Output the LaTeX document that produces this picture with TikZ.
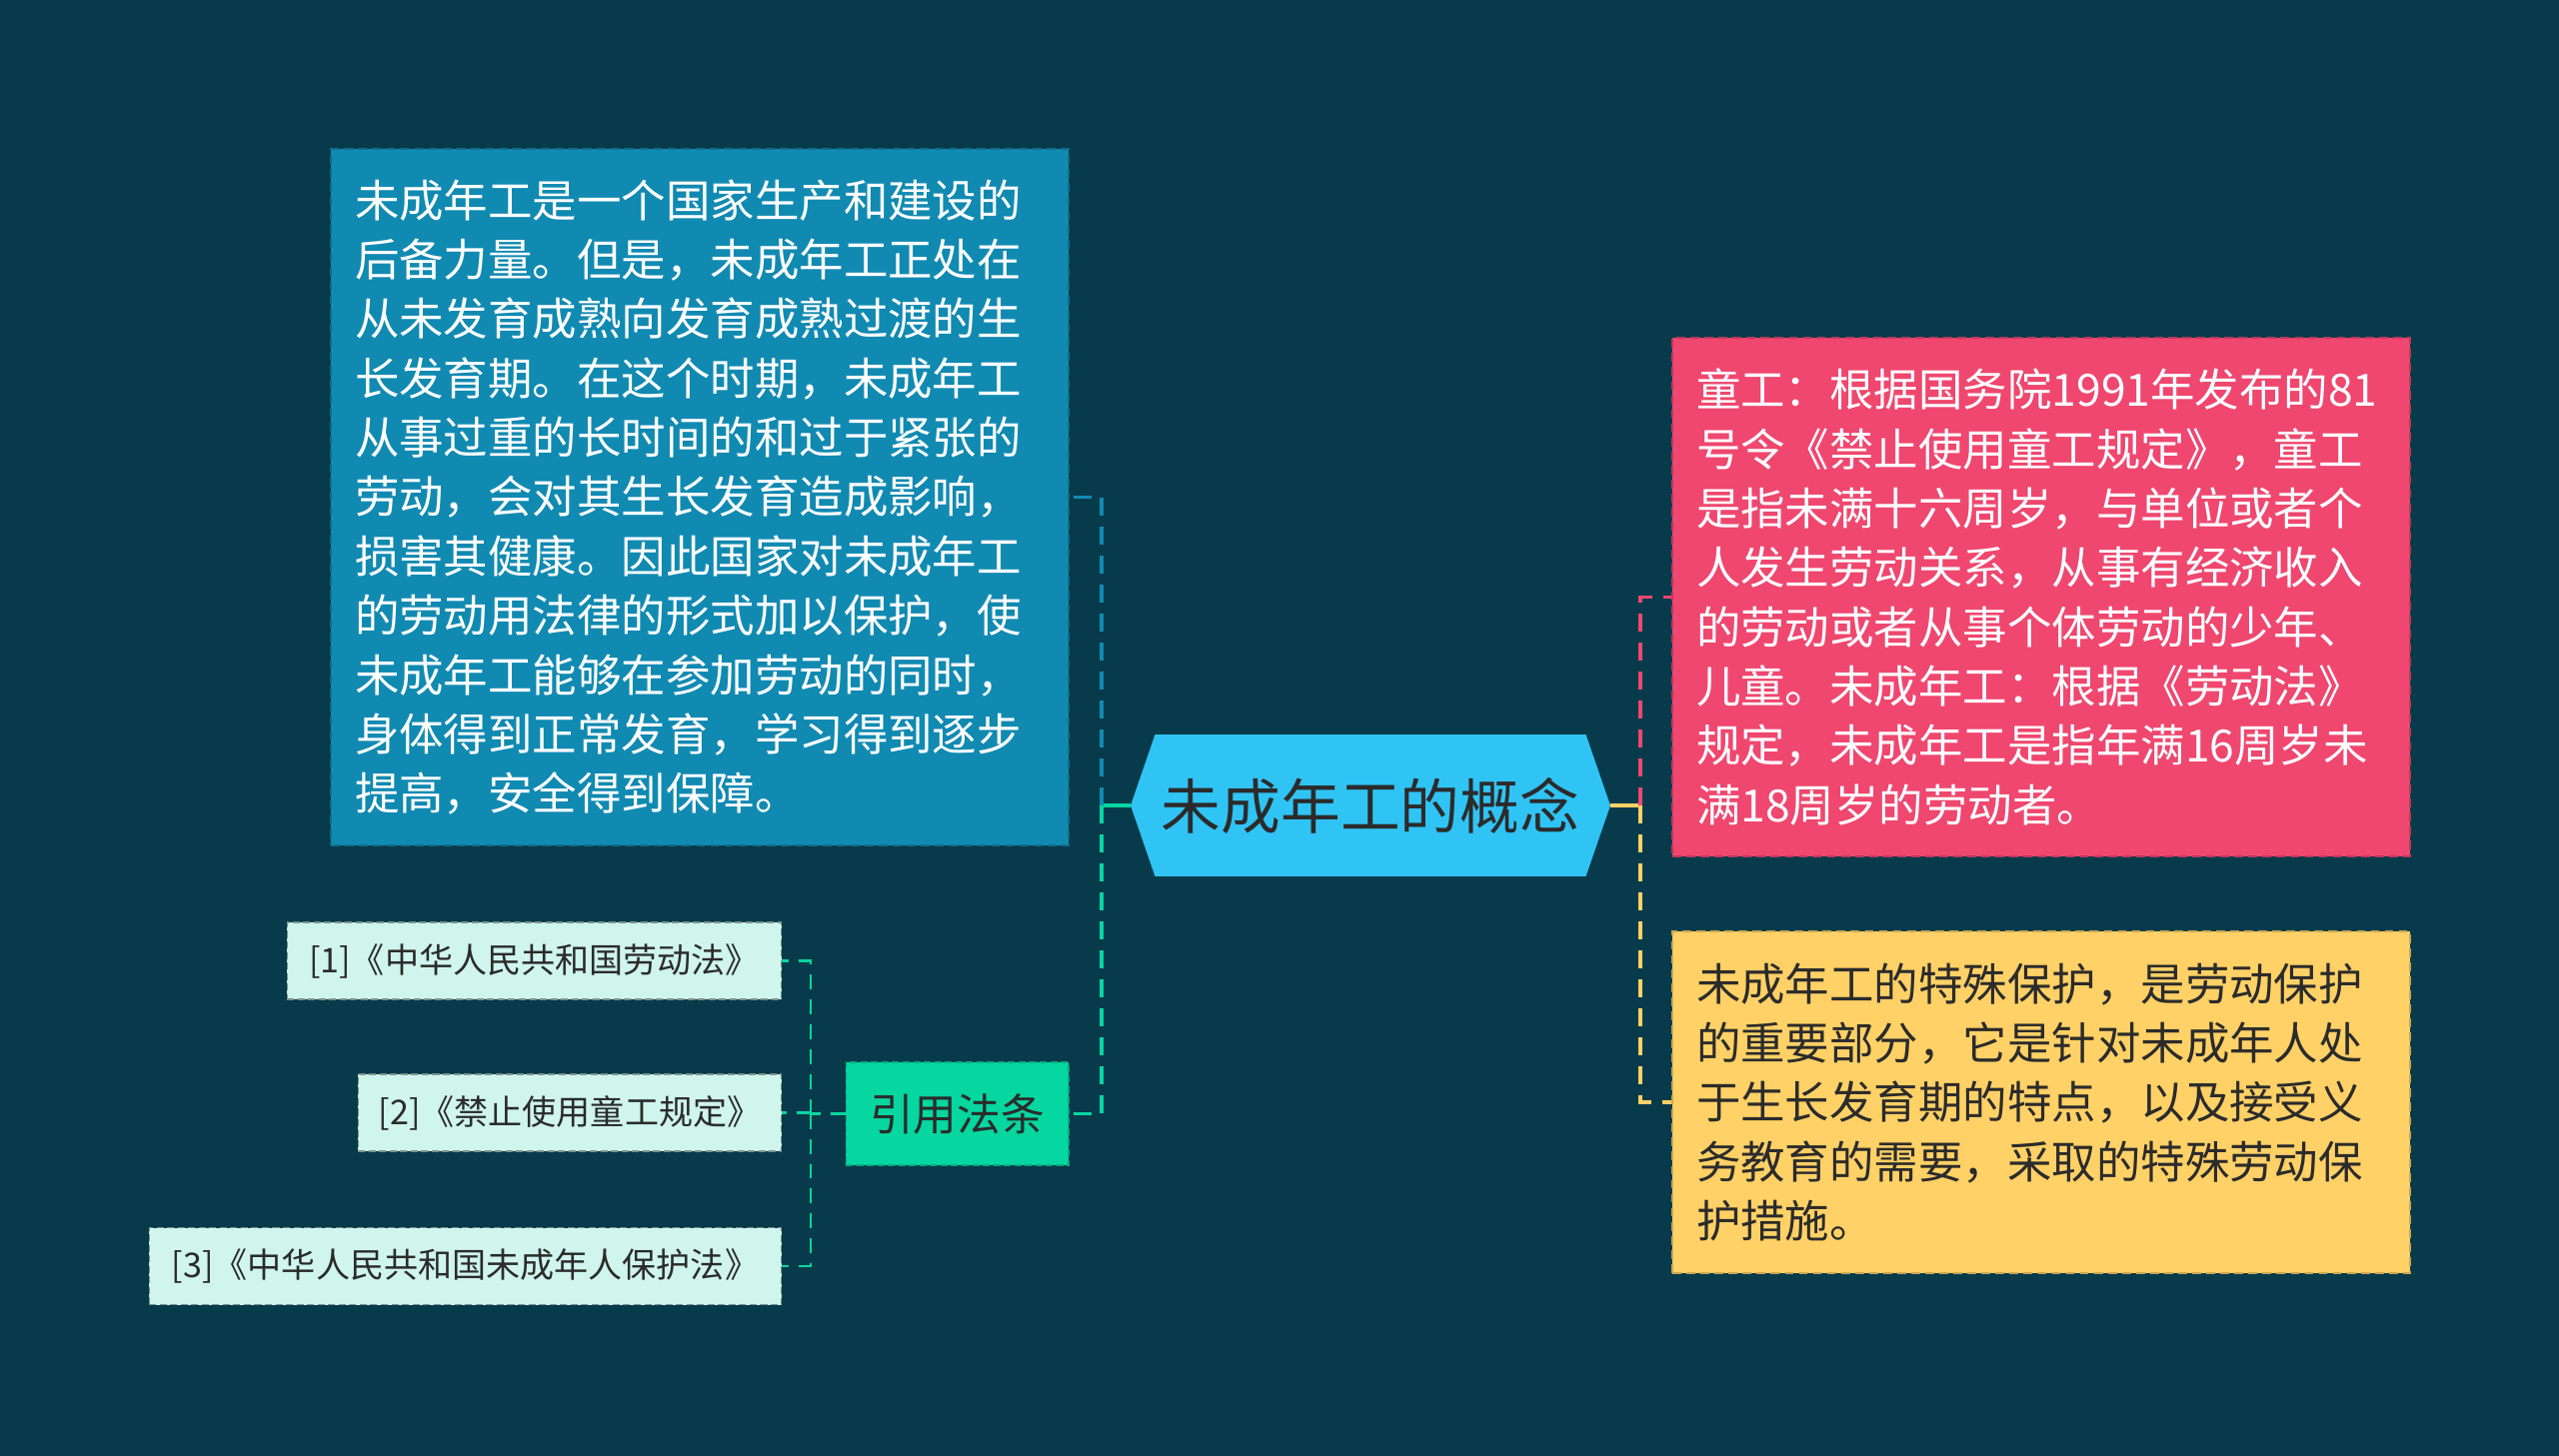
\documentclass[tikz,border=0pt]{standalone}
\usepackage{fontspec}
\setmainfont{Noto Sans CJK SC}
\usetikzlibrary{shapes.symbols}
\definecolor{cBG}{HTML}{073B4C}
\definecolor{cBLU}{HTML}{118AB2}
\definecolor{cPNK}{HTML}{EF476F}
\definecolor{cYEL}{HTML}{FFD166}
\definecolor{cGRN}{HTML}{06D6A0}
\definecolor{cHEX}{HTML}{30C4F4}
\definecolor{cREF}{HTML}{CFF5EC}
\definecolor{cTXT}{HTML}{2B2B2B}

\begin{document}
\begin{tikzpicture}[x=0.02cm, y=-0.02cm,
  box/.style={draw=#1!80!black, fill=#1, dash pattern=on 5pt off 3pt, line width=0.7pt,
    inner xsep=0.48cm, inner ysep=0pt, align=left, text width=13.8cm,
    font=\fontsize{25.3}{33.8}\selectfont},
  refbox/.style={draw=cREF!60!black, fill=cREF, dash pattern=on 4pt off 2pt, line width=0.6pt,
    text=cTXT, inner sep=0pt, minimum height=1.54cm, font=\fontsize{19.4}{24}\selectfont},
  link/.style={line width=2.1pt, dash pattern=on 0.36cm off 0.22cm},
  reflink/.style={line width=1.5pt, cGRN, dash pattern=on 0.3cm off 0.2cm}]
\fill[cBG] (0,0) rectangle (2560,1457);
\useasboundingbox (0,0) rectangle (2560,1457);

% centre
\node[signal, signal to=east and west, signal pointer angle=142, fill=cHEX,
  minimum width=9.6cm, minimum height=2.84cm, inner sep=0pt, text=cTXT,
  font=\fontsize{34}{40}\selectfont] (hex) at (1371,806) {未成年工的概念};

% left branch
\node[box=cBLU, text=white, minimum height=13.94cm] (blue) at (700,497.5) {未成年工是一个国家生产和建设的\\后备力量。但是，未成年工正处在\\从未发育成熟向发育成熟过渡的生\\长发育期。在这个时期，未成年工\\从事过重的长时间的和过于紧张的\\劳动，会对其生长发育造成影响，\\损害其健康。因此国家对未成年工\\的劳动用法律的形式加以保护，使\\未成年工能够在参加劳动的同时，\\身体得到正常发育，学习得到逐步\\提高，安全得到保障。};
\node[draw=cGRN!80!black, fill=cGRN, dash pattern=on 4pt off 2pt, line width=0.6pt, text=cTXT,
  minimum width=4.46cm, minimum height=2.06cm, inner sep=0pt,
  font=\fontsize{24.9}{30}\selectfont] (law) at (957.5,1114.5) {引用法条};

% right branch
\node[box=cPNK, text=white, minimum height=10.38cm] (pink) at (2042,597.5) {童工：根据国务院1991年发布的81\\号令《禁止使用童工规定》，童工\\是指未满十六周岁，与单位或者个\\人发生劳动关系，从事有经济收入\\的劳动或者从事个体劳动的少年、\\儿童。未成年工：根据《劳动法》\\规定，未成年工是指年满16周岁未\\满18周岁的劳动者。};
\node[box=cYEL, text=cTXT, minimum height=6.84cm] (yel) at (2042,1103) {未成年工的特殊保护，是劳动保护\\的重要部分，它是针对未成年人处\\于生长发育期的特点，以及接受义\\务教育的需要，采取的特殊劳动保\\护措施。};

% references
\foreach \n/\x/\y/\w/\t in {r1/534.5/961.5/9.9/{[1]《中华人民共和国劳动法》},
    r2/570/1113.5/8.48/{[2]《禁止使用童工规定》},
    r3/465.5/1267/12.66/{[3]《中华人民共和国未成年人保护法》}}
  \node[refbox, minimum width=\w cm] (\n) at (\x,\y) {\t};

% connectors
\coordinate (lj) at (1102,806);
\coordinate (rj) at (1641,806);
\coordinate (lawj) at (811,1114.5);
\draw[line width=2.1pt, cGRN] (hex.west) -- (lj);
\draw[link, cBLU] (lj) |- (blue.east);
\draw[link, cGRN] (lj) |- (law.east);
\draw[line width=2.1pt, cYEL] (hex.east) -- (rj);
\draw[link, cPNK] (rj) |- (pink.west);
\draw[link, cYEL] (rj) |- (yel.west);
\draw[reflink] (law.west) -- (lawj);
\foreach \n in {r1,r2,r3}
  \draw[reflink] (lawj) |- (\n.east);
\end{tikzpicture}
\end{document}
